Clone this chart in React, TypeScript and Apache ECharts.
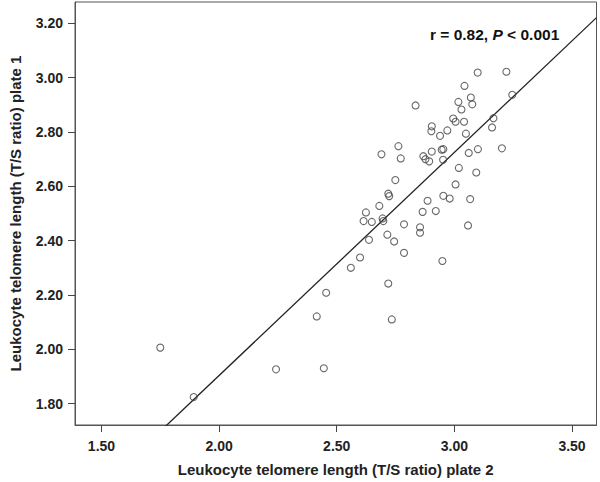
import React, { useEffect, useRef } from "react";
import * as echarts from "echarts";

// Leukocyte telomere length (T/S ratio): [plate 2, plate 1]
const plate2: number[] = [
  1.750, 1.892, 2.242, 2.445, 2.415, 2.455, 2.734, 2.719, 2.560, 2.599,
  2.637, 2.715, 2.744, 2.786, 2.786, 2.854, 2.854, 2.614, 2.649, 2.624,
  2.695, 2.698, 2.681, 2.865, 2.886, 2.719, 2.723, 2.921, 2.953, 2.980,
  3.067, 3.058, 2.949, 3.099, 3.221, 3.043, 2.835, 3.017, 3.070, 3.030,
  3.076, 3.246, 2.995, 3.005, 3.041, 3.166, 3.160, 2.904, 2.902, 2.970,
  2.939, 3.049, 3.202, 2.762, 2.690, 2.772, 2.904, 2.946, 2.953, 3.100,
  3.061, 2.868, 2.877, 2.893, 2.952, 3.019, 3.093, 2.749, 3.005,
];
const plate1: number[] = [
  2.006, 1.824, 1.926, 1.930, 2.121, 2.208, 2.110, 2.242, 2.300, 2.338,
  2.403, 2.422, 2.397, 2.355, 2.460, 2.449, 2.429, 2.472, 2.469, 2.504,
  2.482, 2.472, 2.528, 2.506, 2.547, 2.573, 2.564, 2.509, 2.565, 2.555,
  2.553, 2.456, 2.325, 3.019, 3.022, 2.970, 2.898, 2.911, 2.927, 2.883,
  2.902, 2.937, 2.850, 2.838, 2.838, 2.851, 2.817, 2.821, 2.803, 2.806,
  2.786, 2.794, 2.740, 2.748, 2.718, 2.703, 2.728, 2.735, 2.737, 2.737,
  2.723, 2.711, 2.700, 2.692, 2.698, 2.668, 2.651, 2.623, 2.607,
];

// Fit line: plate1 = intercept + slope * plate2
const fitIntercept = 0.26;
const fitSlope = 0.8217;

const xTicks: number[] = [1.5, 2.0, 2.5, 3.0, 3.5];
const yTicks: number[] = [1.8, 2.0, 2.2, 2.4, 2.6, 2.8, 3.0, 3.2];
const xRange: [number, number] = [1.3875, 3.604];
const yRange: [number, number] = [1.721, 3.279];

const xTitle = "Leukocyte telomere length (T/S ratio) plate 2";
const yTitle = "Leukocyte telomere length (T/S ratio) plate 1";

const FONT = 'Arial, "Liberation Sans", Helvetica, sans-serif';

export default function App() {
  const ref = useRef<HTMLDivElement>(null);
  useEffect(() => {
    if (!ref.current) return;
    const chart = echarts.init(ref.current, undefined, { renderer: "svg" });
    const points = plate2.map((x, i) => [x, plate1[i]]);
    const fit = [
      [xRange[0], fitIntercept + fitSlope * xRange[0]],
      [xRange[1], fitIntercept + fitSlope * xRange[1]],
    ];
    const axisCommon = {
      axisLine: { show: true, lineStyle: { color: "#555", width: 1 } },
      axisTick: { show: true, length: 7, lineStyle: { color: "#444", width: 1 } },
      splitLine: { show: false },
      nameTextStyle: { fontFamily: FONT, fontWeight: "bold" as const, fontSize: 15, color: "#222" },
    };
    chart.setOption({
      animation: false,
      backgroundColor: "#fff",
      grid: {
        left: 67,
        right: 3.5,
        top: 2,
        bottom: 55,
        show: true,
        borderColor: "#555",
        borderWidth: 1,
        containLabel: false,
      },
      xAxis: {
        type: "value",
        min: xRange[0],
        max: xRange[1],
        ...axisCommon,
        axisTick: { ...axisCommon.axisTick, customValues: xTicks },
        axisLabel: {
          customValues: xTicks,
          formatter: (v: number) => v.toFixed(2),
          fontFamily: FONT,
          fontWeight: "bold",
          fontSize: 14,
          color: "#222",
          margin: 14,
        },
        name: xTitle,
        nameLocation: "middle",
        nameGap: 37,
      },
      yAxis: {
        type: "value",
        min: yRange[0],
        max: yRange[1],
        ...axisCommon,
        axisTick: { ...axisCommon.axisTick, customValues: yTicks },
        axisLabel: {
          customValues: yTicks,
          formatter: (v: number) => v.toFixed(2),
          fontFamily: FONT,
          fontWeight: "bold",
          fontSize: 14,
          color: "#222",
          margin: 12,
        },
        name: yTitle,
        nameLocation: "middle",
        nameGap: 52,
      },
      graphic: [
        {
          type: "text",
          left: 430,
          top: 26,
          style: {
            text: "{a|r = 0.82, }{b|P}{a| < 0.001}",
            rich: {
              a: { fontFamily: FONT, fontWeight: "bold", fontSize: 15.5, fill: "#111" },
              b: { fontFamily: FONT, fontWeight: "bold", fontStyle: "italic", fontSize: 15.5, fill: "#111" },
            },
          },
        },
      ],
      series: [
        {
          type: "line",
          data: fit,
          showSymbol: false,
          symbol: "none",
          clip: true,
          lineStyle: { color: "#222", width: 1.3 },
          z: 2,
        },
        {
          type: "scatter",
          data: points,
          symbol: "circle",
          symbolSize: 7,
          itemStyle: { color: "rgba(0,0,0,0)", borderColor: "#444", borderWidth: 1.1 },
          z: 3,
        },
      ],
    });
    return () => chart.dispose();
  }, []);
  return (
    <div
      ref={ref}
      style={{ position: "fixed", left: 0, top: 0, width: 600, height: 482, background: "#fff" }}
    />
  );
}
